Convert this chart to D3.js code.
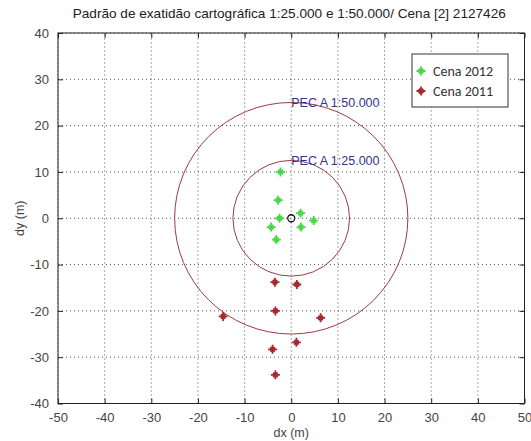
<!DOCTYPE html>
<html>
<head>
<meta charset="utf-8">
<script src="https://cdn.jsdelivr.net/npm/d3@7"></script>
<style>
  body { margin: 0; background: #fff; }
  svg { font-family: Arial, "Liberation Sans", sans-serif; }
</style>
</head>
<body>
<svg id="chart"></svg>
<script>
var xTicks = [-50, -40, -30, -20, -10, 0, 10, 20, 30, 40, 50];
var yTicks = [-40, -30, -20, -10, 0, 10, 20, 30, 40];

// Cena 2012 (green)
var dx2012 = [-2.3, -2.8, -2.5, -4.3, -3.2, 2.0, 2.1, 4.8];
var dy2012 = [10.0, 3.9, 0.0, -1.9, -4.6, 1.1, -1.9, -0.5];

// Cena 2011 (red)
var dx2011 = [-3.5, 1.2, -3.4, -14.6, 6.3, 1.1, -4.0, -3.4];
var dy2011 = [-13.8, -14.3, -20.0, -21.2, -21.5, -26.8, -28.3, -33.8];

// PEC radii
var pecRadius = [12.5, 25];
var pecLabels = ["PEC A 1:25.000", "PEC A 1:50.000"];

var seriesNames = ["Cena 2012", "Cena 2011"];
var seriesColors = ["#48d848", "#a8262c"];

var width = 531, height = 441;
var margins = { top: 33, bottom: 37.5, left: 58, right: 6.5 };

var svg = d3.select("#chart")
            .attr("width", width)
            .attr("height", height);

var xScale = d3.scaleLinear()
               .domain([-50, 50])
               .range([margins.left, width - margins.right]);

var yScale = d3.scaleLinear()
               .domain([-40, 40])
               .range([height - margins.bottom, margins.top]);

var x0 = xScale(-50), x1 = xScale(50), y0 = yScale(-40), y1 = yScale(40);

// grid
var grid = svg.append("g").attr("stroke", "#555").attr("stroke-width", 1)
              .attr("stroke-dasharray", "1,3");
grid.selectAll("line.gx")
    .data(xTicks)
    .enter()
    .append("line")
    .attr("x1", function(d){return xScale(d)})
    .attr("x2", function(d){return xScale(d)})
    .attr("y1", y0).attr("y2", y1);
grid.selectAll("line.gy")
    .data(yTicks)
    .enter()
    .append("line")
    .attr("y1", function(d){return yScale(d)})
    .attr("y2", function(d){return yScale(d)})
    .attr("x1", x0).attr("x2", x1);

// axes with inward ticks
var tickLen = 5;
var fmt = function(d){return String(d)};
var axisBottom = d3.axisBottom(xScale).tickValues(xTicks).tickFormat(fmt).tickSizeInner(-tickLen).tickSizeOuter(0).tickPadding(9);
var axisLeft = d3.axisLeft(yScale).tickValues(yTicks).tickFormat(fmt).tickSizeInner(-tickLen).tickSizeOuter(0).tickPadding(9);
var axisTop = d3.axisTop(xScale).tickValues(xTicks).tickSizeInner(-tickLen).tickSizeOuter(0).tickFormat("");
var axisRight = d3.axisRight(yScale).tickValues(yTicks).tickSizeInner(-tickLen).tickSizeOuter(0).tickFormat("");

function styleAxis(g) {
  g.select(".domain").remove();
  g.selectAll("line").attr("stroke", "#222");
  g.selectAll("text").attr("fill", "#444").style("font-size", "13px");
}

svg.append("g").attr("transform", "translate(0," + y0 + ")").call(axisBottom).call(styleAxis);
svg.append("g").attr("transform", "translate(" + x0 + ",0)").call(axisLeft).call(styleAxis);
svg.append("g").attr("transform", "translate(0," + y1 + ")").call(axisTop).call(styleAxis);
svg.append("g").attr("transform", "translate(" + x1 + ",0)").call(axisRight).call(styleAxis);

svg.append("rect")
   .attr("x", x0).attr("y", y1)
   .attr("width", x1 - x0).attr("height", y0 - y1)
   .attr("fill", "none").attr("stroke", "#222").attr("stroke-width", 1);

// PEC circles
svg.selectAll("ellipse.pec")
   .data(pecRadius)
   .enter()
   .append("ellipse")
   .attr("cx", xScale(0)).attr("cy", yScale(0))
   .attr("rx", function(d){return xScale(d) - xScale(0)})
   .attr("ry", function(d){return yScale(0) - yScale(d)})
   .attr("fill", "none")
   .attr("stroke", "#9c3b45")
   .attr("stroke-width", 1);

svg.selectAll("text.pec")
   .data(pecRadius)
   .enter()
   .append("text")
   .attr("x", xScale(0))
   .attr("y", function(d){return yScale(d)})
   .attr("dy", "0.35em")
   .attr("fill", "#34348a")
   .style("font-size", "12.5px")
   .text(function(d,i){return pecLabels[i]});

// asterisk marker
function star(g, cx, cy, color, s) {
  var d = "M" + (cx - s) + "," + cy + "L" + (cx + s) + "," + cy +
          "M" + cx + "," + (cy - s) + "L" + cx + "," + (cy + s) +
          "M" + (cx - s * 0.5) + "," + (cy - s * 0.5) + "L" + (cx + s * 0.5) + "," + (cy + s * 0.5) +
          "M" + (cx - s * 0.5) + "," + (cy + s * 0.5) + "L" + (cx + s * 0.5) + "," + (cy - s * 0.5);
  g.append("path").attr("d", d).attr("stroke", color).attr("stroke-width", 1.8).attr("fill", "none");
}

var pts2012 = dx2012.map(function(d,i){return [d, dy2012[i]]});
var pts2011 = dx2011.map(function(d,i){return [d, dy2011[i]]});

var marks = svg.append("g");
pts2012.forEach(function(p){ star(marks, xScale(p[0]), yScale(p[1]), seriesColors[0], 4.5); });
pts2011.forEach(function(p){ star(marks, xScale(p[0]), yScale(p[1]), seriesColors[1], 4.5); });

// origin marker
svg.append("circle")
   .attr("cx", xScale(0)).attr("cy", yScale(0)).attr("r", 3.5)
   .attr("fill", "none").attr("stroke", "#111").attr("stroke-width", 1.3);

// legend
var legend = svg.append("g").attr("transform", "translate(412,54)");
legend.append("rect")
      .attr("width", 96).attr("height", 53)
      .attr("fill", "#fff").attr("stroke", "#333").attr("stroke-width", 1);
seriesNames.forEach(function(name, i){
  var ly = 17 + i * 20;
  star(legend, 9, ly, seriesColors[i], 4.5);
  legend.append("text")
        .attr("x", 21).attr("y", ly).attr("dy", "0.35em")
        .attr("fill", "#333")
        .style("font-family", "Carlito, Calibri, 'Open Sans', sans-serif")
        .style("font-size", "14px")
        .text(name);
});

// title and labels
svg.append("text")
   .attr("x", (x0 + x1) / 2 - 2).attr("y", 18)
   .attr("text-anchor", "middle")
   .attr("fill", "#222")
   .style("font-size", "13.6px")
   .text("Padrão de exatidão cartográfica 1:25.000 e 1:50.000/ Cena [2] 2127426");

svg.append("text")
   .attr("x", (x0 + x1) / 2).attr("y", 437)
   .attr("text-anchor", "middle")
   .attr("fill", "#444")
   .style("font-size", "12.5px")
   .text("dx (m)");

svg.append("text")
   .attr("transform", "translate(24," + yScale(0) + ") rotate(-90)")
   .attr("text-anchor", "middle")
   .attr("fill", "#444")
   .style("font-size", "12.5px")
   .text("dy (m)");
</script>
</body>
</html>
